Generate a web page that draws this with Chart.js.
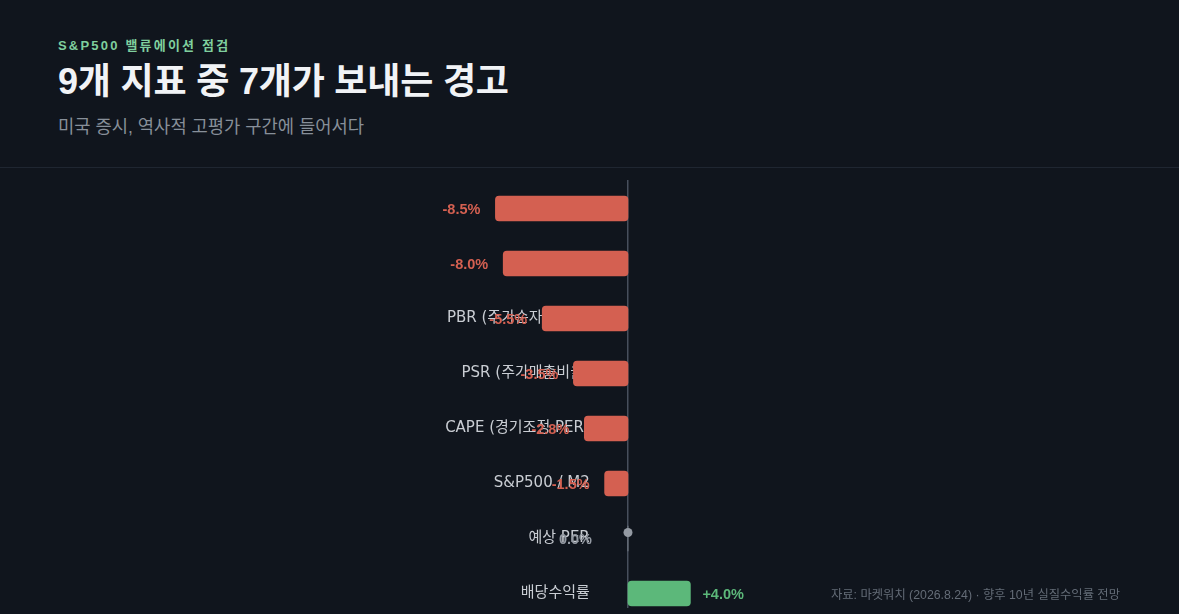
<!DOCTYPE html>
<html lang="ko">
<head>
<meta charset="utf-8">
<script src="https://cdn.jsdelivr.net/npm/chart.js@4.4.1/dist/chart.umd.min.js"></script>
<style>
  html, body { margin: 0; padding: 0; background: #10151d; width: 1179px; height: 614px; overflow: hidden; }
  body { font-family: "Liberation Sans", "Noto Sans CJK KR", sans-serif; position: relative; }
  .header { padding: 38px 58px 0 58px; height: 129px; border-bottom: 1px solid #1f2631; box-sizing: content-box; }
  .eyebrow { color: #7fcf9e; font-size: 13px; font-weight: bold; letter-spacing: 2.2px; line-height: 16px; }
  .title { color: #f1f3f6; font-size: 36px; font-weight: bold; line-height: 40px; margin-top: 8px; letter-spacing: -0.2px; }
  .sub { color: #878f99; font-size: 17.7px; line-height: 22px; margin-top: 14px; }
  .chartwrap { position: absolute; left: 0; top: 168px; width: 1179px; height: 440px; overflow: hidden; }
  .note { position: absolute; right: 59px; top: 587px; color: #646c77; font-size: 12.3px; line-height: 16px; }
</style>
</head>
<body>
<div class="header">
  <div class="eyebrow">S&amp;P500 밸류에이션 점검</div>
  <div class="title">9개 지표 중 7개가 보내는 경고</div>
  <div class="sub">미국 증시, 역사적 고평가 구간에 들어서다</div>
</div>
<div class="chartwrap"><canvas id="c" width="1179" height="462" style="width:1179px;height:462px"></canvas></div>
<div class="note">자료: 마켓워치 (2026.8.24) · 향후 10년 실질수익률 전망</div>
<script>
const categories = ["버핏지수", "토빈의 Q", "PBR (주가순자산비율)", "PSR (주가매출비율)", "CAPE (경기조정 PER)", "S&P500 / M2", "예상 PER", "배당수익률"];
const returns = [-8.5, -8.0, -5.5, -3.5, -2.8, -1.5, 0.0, 4.0];
const xRange = [-10, 10];

const RED = "#d46051", GREEN = "#5cb87a", GREY = "#949aa3", AXIS = "#474f5c";
const FONT = '"Liberation Sans", "Noto Sans CJK KR", sans-serif';
const TICK_FONT = '"DejaVu Sans", "Noto Sans CJK KR", sans-serif';

const valueLabels = {
  id: "valueLabels",
  afterDatasetsDraw(chart) {
    const ctx = chart.ctx;
    const meta = chart.getDatasetMeta(0);
    ctx.save();
    ctx.font = "bold 14.5px " + FONT;
    ctx.textBaseline = "middle";
    meta.data.forEach((el, i) => {
      const v = returns[i];
      const txt = (v > 0 ? "+" : "") + v.toFixed(1) + "%";
      if (v < 0) {
        ctx.fillStyle = RED; ctx.textAlign = "right";
        ctx.fillText(txt, el.x - 15, el.y + 1);
      } else if (v > 0) {
        ctx.fillStyle = GREEN; ctx.textAlign = "left";
        ctx.fillText(txt, el.x + 12, el.y + 1);
      } else {
        ctx.fillStyle = GREY;
        ctx.beginPath(); ctx.arc(el.x, el.y - 6, 4.5, 0, Math.PI * 2); ctx.fill();
        ctx.textAlign = "right";
        ctx.fillText(txt, el.x - 36, el.y + 1);
      }
    });
    ctx.restore();
  }
};

new Chart(document.getElementById("c"), {
  type: "bar",
  data: {
    labels: categories,
    datasets: [{
      data: returns,
      backgroundColor: returns.map(v => v < 0 ? RED : (v > 0 ? GREEN : GREY)),
      borderRadius: 4,
      borderSkipped: false,
      barThickness: 25
    }]
  },
  options: {
    indexAxis: "y",
    responsive: false,
    animation: false,
    devicePixelRatio: 1,
    layout: { padding: { left: 472, right: 395, top: 13, bottom: 9 } },
    plugins: { legend: { display: false }, tooltip: { enabled: false } },
    scales: {
      x: {
        min: xRange[0], max: xRange[1],
        ticks: { display: false },
        border: { display: false },
        grid: { display: false, drawTicks: false }
      },
      y: {
        position: { x: -2.45 },
        grid: { display: false, drawTicks: false },
        border: { display: false },
        ticks: { color: "#c9cdd3", font: { size: 15, family: TICK_FONT }, padding: 0 }
      },
      zero: {
        type: "category",
        axis: "y",
        position: { x: 0 },
        grid: { display: false, drawTicks: false },
        border: { display: true, color: AXIS, width: 1.5 },
        ticks: { display: false }
      }
    }
  },
  plugins: [valueLabels]
});
</script>
</body>
</html>
